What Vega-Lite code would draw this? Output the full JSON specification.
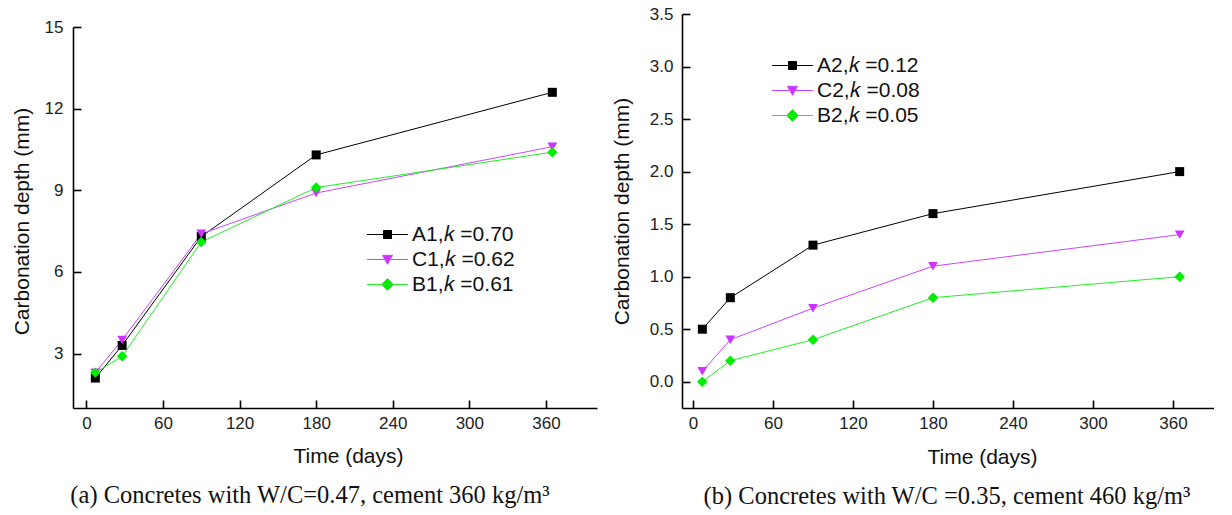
{
  "$schema": "https://vega.github.io/schema/vega-lite/v6.json",
  "padding": {"left": 11, "top": 5, "right": 0, "bottom": 0},
  "autosize": {"type": "pad"},
  "spacing": 14,
  "config": {
    "view": {"stroke": null},
    "font": "Liberation Sans",
    "axis": {
      "grid": false, "domainColor": "#000", "domainWidth": 1.6, "tickColor": "#000", "tickWidth": 1.6, "tickSize": -8,
      "labelFont": "Liberation Sans", "labelFontSize": 17, "labelColor": "#222",
      "titleFont": "Liberation Sans", "titleFontSize": 21, "titleFontWeight": "normal", "titleColor": "#111"
    },
    "legend": {
      "orient": "none", "title": null, "padding": 0, "labelFont": "Liberation Sans", "labelFontSize": 21, "labelColor": "#111",
      "symbolSize": 64, "symbolStrokeWidth": 1, "labelOffset": 14, "rowPadding": 3
    },
    "title": {"font": "Liberation Serif", "fontSize": 24.5, "fontWeight": "normal", "color": "#111"}
  },
  "datasets": {
    "a": [
      {"series": "A1,𝑘 =0.70", "day": 7, "depth": 2.1},
      {"series": "A1,𝑘 =0.70", "day": 28, "depth": 3.3},
      {"series": "A1,𝑘 =0.70", "day": 90, "depth": 7.3},
      {"series": "A1,𝑘 =0.70", "day": 180, "depth": 10.3},
      {"series": "A1,𝑘 =0.70", "day": 365, "depth": 12.6},
      {"series": "C1,𝑘 =0.62", "day": 7, "depth": 2.3},
      {"series": "C1,𝑘 =0.62", "day": 28, "depth": 3.5},
      {"series": "C1,𝑘 =0.62", "day": 90, "depth": 7.4},
      {"series": "C1,𝑘 =0.62", "day": 180, "depth": 8.9},
      {"series": "C1,𝑘 =0.62", "day": 365, "depth": 10.6},
      {"series": "B1,𝑘 =0.61", "day": 7, "depth": 2.3},
      {"series": "B1,𝑘 =0.61", "day": 28, "depth": 2.9},
      {"series": "B1,𝑘 =0.61", "day": 90, "depth": 7.1},
      {"series": "B1,𝑘 =0.61", "day": 180, "depth": 9.1},
      {"series": "B1,𝑘 =0.61", "day": 365, "depth": 10.4}
    ],
    "b": [
      {"series": "A2,𝑘 =0.12", "day": 7, "depth": 0.5},
      {"series": "A2,𝑘 =0.12", "day": 28, "depth": 0.8},
      {"series": "A2,𝑘 =0.12", "day": 90, "depth": 1.3},
      {"series": "A2,𝑘 =0.12", "day": 180, "depth": 1.6},
      {"series": "A2,𝑘 =0.12", "day": 365, "depth": 2.0},
      {"series": "C2,𝑘 =0.08", "day": 7, "depth": 0.1},
      {"series": "C2,𝑘 =0.08", "day": 28, "depth": 0.4},
      {"series": "C2,𝑘 =0.08", "day": 90, "depth": 0.7},
      {"series": "C2,𝑘 =0.08", "day": 180, "depth": 1.1},
      {"series": "C2,𝑘 =0.08", "day": 365, "depth": 1.4},
      {"series": "B2,𝑘 =0.05", "day": 7, "depth": 0.0},
      {"series": "B2,𝑘 =0.05", "day": 28, "depth": 0.2},
      {"series": "B2,𝑘 =0.05", "day": 90, "depth": 0.4},
      {"series": "B2,𝑘 =0.05", "day": 180, "depth": 0.8},
      {"series": "B2,𝑘 =0.05", "day": 365, "depth": 1.0}
    ]
  },
  "hconcat": [
    {
      "spacing": 3,
      "vconcat": [
        {
          "width": 524, "height": 1,
          "data": {"name": "a"},
          "transform": [{"filter": "false"}],
          "mark": {"type": "point", "opacity": 0},
          "encoding": {}
        },
        {
          "width": 524, "height": 381,
          "title": {"text": "(a) Concretes with W/C=0.47, cement 360 kg/m³", "orient": "bottom", "anchor": "middle", "offset": 18, "dx": -25},
          "data": {"name": "a"},
          "encoding": {
            "x": {"field": "day", "type": "quantitative", "scale": {"domain": [-10.5, 400], "nice": false, "zero": false},
              "axis": {"values": [0, 60, 120, 180, 240, 300, 360], "title": "Time (days)", "titleX": 275, "titleY": 37, "labelPadding": 15}},
            "y": {"field": "depth", "type": "quantitative", "scale": {"domain": [1, 15], "nice": false, "zero": false},
              "axis": {"values": [3, 6, 9, 12, 15], "title": "Carbonation depth (mm)", "titleX": -41, "titleY": 194, "labelPadding": 18}}
          },
          "layer": [
            {
              "mark": {"type": "line", "strokeWidth": 1},
              "encoding": {"stroke": {"field": "series", "type": "nominal", "legend": null,
                "scale": {"domain": ["A1,𝑘 =0.70", "C1,𝑘 =0.62", "B1,𝑘 =0.61"], "range": ["#000000", "#cc44ff", "#22ee22"]}}}
            },
            {
              "mark": {"type": "point", "filled": true, "opacity": 1},
              "encoding": {
                "fill": {"field": "series", "type": "nominal", "legend": null,
                  "scale": {"domain": ["A1,𝑘 =0.70", "C1,𝑘 =0.62", "B1,𝑘 =0.61"], "range": ["#000000", "#cc33ff", "#00ee00"]}},
                "shape": {"field": "series", "type": "nominal", "legend": null,
                  "scale": {"domain": ["A1,𝑘 =0.70", "C1,𝑘 =0.62", "B1,𝑘 =0.61"], "range": ["square", "triangle-down", "diamond"]}},
                "size": {"field": "series", "type": "nominal", "legend": null,
                  "scale": {"domain": ["A1,𝑘 =0.70", "C1,𝑘 =0.62", "B1,𝑘 =0.61"], "range": [81, 110, 160]}}
              }
            },
            {
              "transform": [{"filter": "false"}],
              "mark": {"type": "point", "filled": true, "opacity": 1},
              "encoding": {
                "fill": {"field": "series", "type": "nominal",
                  "scale": {"domain": ["A1,𝑘 =0.70", "C1,𝑘 =0.62", "B1,𝑘 =0.61"], "range": ["#000000", "#cc33ff", "#00ee00"]},
                  "legend": {"legendX": 304, "legendY": 197}},
                "stroke": {"field": "series", "type": "nominal",
                  "scale": {"domain": ["A1,𝑘 =0.70", "C1,𝑘 =0.62", "B1,𝑘 =0.61"], "range": ["#000000", "#cc44ff", "#22ee22"]},
                  "legend": {"legendX": 304, "legendY": 197}},
                "shape": {"field": "series", "type": "nominal",
                  "scale": {"domain": ["A1,𝑘 =0.70", "C1,𝑘 =0.62", "B1,𝑘 =0.61"],
                    "range": ["M-5.1,0H5.1M-1,-1H1V1H-1Z", "M-5.1,0H5.1M-1.25,-1.05H1.25L0,1.2Z", "M-5.1,0H5.1M0,-1.5L1.5,0L0,1.5L-1.5,0Z"]},
                  "legend": {"legendX": 304, "legendY": 197}}
              }
            }
          ],
          "resolve": {
            "scale": {"fill": "independent", "stroke": "independent", "shape": "independent", "size": "independent"},
            "legend": {"fill": "independent", "stroke": "independent", "shape": "independent", "size": "independent"}
          }
        }
      ]
    },
    {
      "width": 532, "height": 394,
      "title": {"text": "(b) Concretes with W/C =0.35, cement 460 kg/m³", "orient": "bottom", "anchor": "middle", "offset": 18, "dx": -1},
      "data": {"name": "b"},
      "encoding": {
        "x": {"field": "day", "type": "quantitative", "scale": {"domain": [-8.25, 390.75], "nice": false, "zero": false},
          "axis": {"values": [0, 60, 120, 180, 240, 300, 360], "title": "Time (days)", "titleX": 300, "titleY": 38, "labelPadding": 15}},
        "y": {"field": "depth", "type": "quantitative", "scale": {"domain": [-0.25, 3.5], "nice": false, "zero": false},
          "axis": {"values": [0, 0.5, 1, 1.5, 2, 2.5, 3, 3.5], "format": ".1f", "title": "Carbonation depth (mm)", "titleX": -50, "labelPadding": 17}}
      },
      "layer": [
        {
          "mark": {"type": "line", "strokeWidth": 1},
          "encoding": {"stroke": {"field": "series", "type": "nominal", "legend": null,
            "scale": {"domain": ["A2,𝑘 =0.12", "C2,𝑘 =0.08", "B2,𝑘 =0.05"], "range": ["#000000", "#cc44ff", "#22ee22"]}}}
        },
        {
          "mark": {"type": "point", "filled": true, "opacity": 1},
          "encoding": {
            "fill": {"field": "series", "type": "nominal", "legend": null,
              "scale": {"domain": ["A2,𝑘 =0.12", "C2,𝑘 =0.08", "B2,𝑘 =0.05"], "range": ["#000000", "#cc33ff", "#00ee00"]}},
            "shape": {"field": "series", "type": "nominal", "legend": null,
              "scale": {"domain": ["A2,𝑘 =0.12", "C2,𝑘 =0.08", "B2,𝑘 =0.05"], "range": ["square", "triangle-down", "diamond"]}},
            "size": {"field": "series", "type": "nominal", "legend": null,
              "scale": {"domain": ["A2,𝑘 =0.12", "C2,𝑘 =0.08", "B2,𝑘 =0.05"], "range": [81, 110, 160]}}
          }
        },
        {
          "transform": [{"filter": "false"}],
          "mark": {"type": "point", "filled": true, "opacity": 1},
          "encoding": {
            "fill": {"field": "series", "type": "nominal",
              "scale": {"domain": ["A2,𝑘 =0.12", "C2,𝑘 =0.08", "B2,𝑘 =0.05"], "range": ["#000000", "#cc33ff", "#00ee00"]},
              "legend": {"legendX": 100, "legendY": 41}},
            "stroke": {"field": "series", "type": "nominal",
              "scale": {"domain": ["A2,𝑘 =0.12", "C2,𝑘 =0.08", "B2,𝑘 =0.05"], "range": ["#000000", "#cc44ff", "#22ee22"]},
              "legend": {"legendX": 100, "legendY": 41}},
            "shape": {"field": "series", "type": "nominal",
              "scale": {"domain": ["A2,𝑘 =0.12", "C2,𝑘 =0.08", "B2,𝑘 =0.05"],
                "range": ["M-5.1,0H5.1M-1,-1H1V1H-1Z", "M-5.1,0H5.1M-1.25,-1.05H1.25L0,1.2Z", "M-5.1,0H5.1M0,-1.5L1.5,0L0,1.5L-1.5,0Z"]},
              "legend": {"legendX": 100, "legendY": 41}}
          }
        }
      ],
      "resolve": {
        "scale": {"fill": "independent", "stroke": "independent", "shape": "independent", "size": "independent"},
        "legend": {"fill": "independent", "stroke": "independent", "shape": "independent", "size": "independent"}
      }
    }
  ]
}
